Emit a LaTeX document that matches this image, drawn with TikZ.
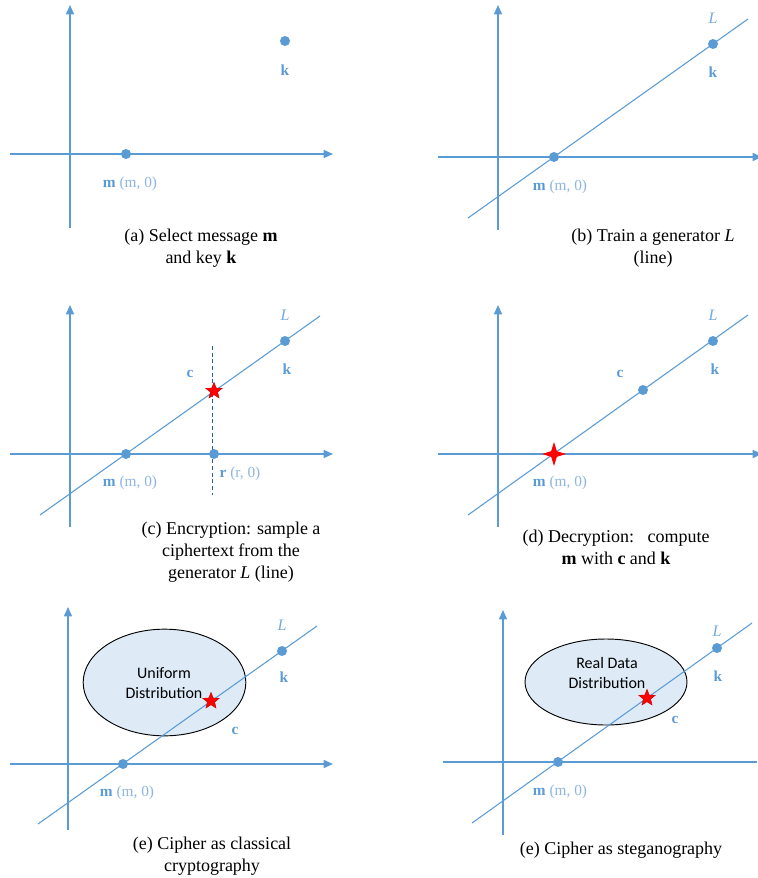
\documentclass[tikz,border=0pt]{standalone}
\usepackage{fontspec}
\setmainfont{Liberation Serif}
\newfontfamily\calibrifont{Carlito}
\usetikzlibrary{arrows.meta,shapes.geometric}
\definecolor{axis}{HTML}{5B9BD5}
\definecolor{point}{HTML}{5B9BD5}
\definecolor{coord}{HTML}{8DB4E2}
\definecolor{cut}{HTML}{2E5F9A}
\definecolor{cipher}{HTML}{FF0000}
\definecolor{region}{HTML}{DEEBF7}

\begin{document}
\begin{tikzpicture}[
  x=0.75pt,y=-0.75pt,
  axisline/.style={draw=axis,line width=1.1pt,-{Triangle[width=6pt,length=7pt]}},
  genline/.style={draw=axis,line width=0.8pt},
  dot/.style={circle,fill=point,inner sep=0pt,minimum size=7.5pt},
  lbl/.style={font=\fontsize{11.5}{13}\selectfont,text=point},
  gen/.style={font=\fontsize{12}{13}\selectfont\itshape,text=point!85},
  star5/.style={star,star points=5,star point ratio=2.3,fill=cipher,draw=cipher!75!black,line width=0.3pt,inner sep=0pt,minimum size=13pt},
  star4/.style={star,star points=4,star point ratio=3,fill=cipher,inner sep=0pt,minimum size=18pt},
  dist/.style={ellipse,draw=black,line width=0.7pt,fill=region,inner sep=0pt},
  disttext/.style={font=\calibrifont\fontsize{12}{15}\selectfont,align=center},
  caption/.style={font=\fontsize{13.5}{16.5}\selectfont,align=center},
]
  \useasboundingbox (0,0) rectangle (757,878);

  % (a)
  \coordinate (aylo) at (70,228);  \coordinate (ayhi) at (70,5);
  \coordinate (axlo) at (10,154);  \coordinate (axhi) at (333,154);
  \draw[axisline] (aylo) -- (ayhi);
  \draw[axisline] (axlo) -- (axhi);
  \node[dot] (am) at (126,154) {};
  \node[dot] (ak) at (285,41) {};
  \node[lbl] at (285,70) {\textbf{k}};
  \node[lbl] at (130,184) {\textbf{m} {\color{coord}(m, 0)}};
  \node[caption] at (201,248) {(a) Select message \textbf{m}\\and key \textbf{k}};

  % (b)
  \coordinate (bylo) at (498,230); \coordinate (byhi) at (498,5);
  \coordinate (bxlo) at (438,157); \coordinate (bxhi) at (762,157);
  \coordinate (bstart) at (468,218); \coordinate (bend) at (748,19);
  \draw[axisline] (bylo) -- (byhi);
  \draw[axisline] (bxlo) -- (bxhi);
  \draw[genline] (bstart) -- (bend);
  \node[dot] (bm) at (554,157) {};
  \node[dot] (bk) at (713,44) {};
  \node[gen] at (713,18) {L};
  \node[lbl] at (713,72) {\textbf{k}};
  \node[lbl] at (560,187) {\textbf{m} {\color{coord}(m, 0)}};
  \node[caption] at (653,248) {(b) Train a generator \textit{L}\\(line)};

  % (c)
  \coordinate (cylo) at (70,527);  \coordinate (cyhi) at (70,305);
  \coordinate (cxlo) at (10,454);  \coordinate (cxhi) at (333,454);
  \coordinate (cstart) at (40,515); \coordinate (cend) at (320,316);
  \coordinate (ccuthi) at (212,346); \coordinate (ccutlo) at (212,495);
  \draw[axisline] (cylo) -- (cyhi);
  \draw[axisline] (cxlo) -- (cxhi);
  \draw[genline] (cstart) -- (cend);
  \draw[cut,line width=0.7pt,dash pattern=on 3pt off 2pt] (ccuthi) -- (ccutlo);
  \node[dot] (cm) at (126,454) {};
  \node[dot] (ck) at (285,341) {};
  \node[dot] (cr) at (214,454) {};
  \node[star5] (cc) at (214,391) {};
  \node[gen] at (285,315) {L};
  \node[lbl] at (287,369) {\textbf{k}};
  \node[lbl] at (190,374) {\textbf{c}};
  \node[lbl] at (240,474) {\textbf{r} {\color{coord}(r, 0)}};
  \node[lbl] at (130,483) {\textbf{m} {\color{coord}(m, 0)}};
  \node[caption] at (231,552) {(c) Encryption: sample a\\ciphertext from the\\generator \textit{L} (line)};

  % (d)
  \coordinate (dylo) at (498,527); \coordinate (dyhi) at (498,305);
  \coordinate (dxlo) at (438,454); \coordinate (dxhi) at (762,454);
  \coordinate (dstart) at (468,515); \coordinate (dend) at (748,315);
  \draw[axisline] (dylo) -- (dyhi);
  \draw[axisline] (dxlo) -- (dxhi);
  \draw[genline] (dstart) -- (dend);
  \node[dot] (dk) at (713,341) {};
  \node[dot] (dc) at (643,390) {};
  \node[star4] (dm) at (554,454) {};
  \node[gen] at (713,315) {L};
  \node[lbl] at (715,369) {\textbf{k}};
  \node[lbl] at (620,374) {\textbf{c}};
  \node[lbl] at (560,483) {\textbf{m} {\color{coord}(m, 0)}};
  \node[caption] at (616,547) {(d) Decryption:\ \ \ compute\\\textbf{m} with \textbf{c} and \textbf{k}};

  % (e)
  \node[dist,minimum width=122pt,minimum height=80pt] (edist) at (164.5,682.5) {};
  \node[disttext] at (164,683) {Uniform\\Distribution};
  \coordinate (eylo) at (68,830);  \coordinate (eyhi) at (68,607);
  \coordinate (exlo) at (10,764);  \coordinate (exhi) at (333,764);
  \coordinate (estart) at (38,824); \coordinate (eend) at (317,626);
  \draw[axisline] (eylo) -- (eyhi);
  \draw[axisline] (exlo) -- (exhi);
  \draw[genline] (estart) -- (eend);
  \node[dot] (em) at (123,764) {};
  \node[dot] (ek) at (282,651) {};
  \node[star5] (ec) at (211,701) {};
  \node[gen] at (282,625) {L};
  \node[lbl] at (284,677) {\textbf{k}};
  \node[lbl] at (235,731) {\textbf{c}};
  \node[lbl] at (127,793) {\textbf{m} {\color{coord}(m, 0)}};
  \node[caption] at (212,856) {(e) Cipher as classical\\cryptography};

  % (f)
  \node[dist,minimum width=121.5pt,minimum height=64.5pt] (fdist) at (606,682) {};
  \node[disttext] at (607,672.5) {Real Data\\Distribution};
  \coordinate (fylo) at (503,835); \coordinate (fyhi) at (503,610);
  \coordinate (fxlo) at (443,762); \coordinate (fxhi) at (757,762);
  \coordinate (fstart) at (472,823); \coordinate (fend) at (752,623);
  \draw[axisline] (fylo) -- (fyhi);
  \draw[axis,line width=1.1pt] (fxlo) -- (fxhi);
  \draw[genline] (fstart) -- (fend);
  \node[dot] (fm) at (558,762) {};
  \node[dot] (fk) at (717,648) {};
  \node[star5] (fc) at (647,698) {};
  \node[gen] at (717,631) {L};
  \node[lbl] at (718,676) {\textbf{k}};
  \node[lbl] at (675,720) {\textbf{c}};
  \node[lbl] at (560,792) {\textbf{m} {\color{coord}(m, 0)}};
  \node[caption] at (621,850) {(e) Cipher as steganography};
\end{tikzpicture}
\end{document}
